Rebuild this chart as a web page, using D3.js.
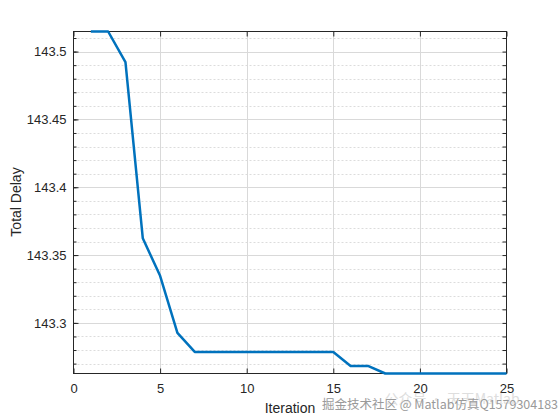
<!DOCTYPE html>
<html><head><meta charset="utf-8">
<script src="https://cdn.jsdelivr.net/npm/d3@7"></script>
<style>body{margin:0;background:#fff}svg{display:block}</style>
</head><body><svg id="c" width="560" height="420"></svg>
<script>
const iterations = d3.range(1, 26);
const totalDelay = [143.5148, 143.5148, 143.4923, 143.3624, 143.3347, 143.2926,
  143.2786, 143.2786, 143.2786, 143.2786, 143.2786, 143.2786, 143.2786, 143.2786, 143.2786,
  143.2683, 143.2683,
  143.2627, 143.2627, 143.2627, 143.2627, 143.2627, 143.2627, 143.2627, 143.2627];
const xTicks = [0, 5, 10, 15, 20, 25];
const yTicks = [143.3, 143.35, 143.4, 143.45, 143.5];
const yMinorTicks = d3.range(27, 52).map(v => 143 + v / 100);
const xLabel = "Iteration";
const yLabel = "Total Delay";

const svg = d3.select("#c");
const L = 73.5, R = 506.5, T = 31.5, B = 373.5;
const x = d3.scaleLinear().domain([0, 25]).range([L, R]);
const y = d3.scaleLinear().domain([d3.min(totalDelay), d3.max(totalDelay)]).range([B, T]);
const font = "Liberation Sans, Arial, Helvetica, sans-serif";
const ink = "#262626";

const g = svg.append("g");
// minor grid
g.selectAll(".ymin").data(yMinorTicks.filter(v => !yTicks.some(t => Math.abs(t - v) < 1e-6))).enter()
  .append("line").attr("x1", L).attr("x2", R)
  .attr("y1", d => Math.round(y(d)) + 0.5).attr("y2", d => Math.round(y(d)) + 0.5)
  .attr("stroke", "#dcdcdc").attr("stroke-width", 1).attr("stroke-dasharray", "2,2");
// major grid
g.selectAll(".ymaj").data(yTicks).enter().append("line")
  .attr("x1", L).attr("x2", R)
  .attr("y1", d => Math.round(y(d)) + 0.5).attr("y2", d => Math.round(y(d)) + 0.5)
  .attr("stroke", "#d9d9d9").attr("stroke-width", 1);
g.selectAll(".xmaj").data(xTicks.slice(1, -1)).enter().append("line")
  .attr("y1", T).attr("y2", B)
  .attr("x1", d => Math.round(x(d)) + 0.5).attr("x2", d => Math.round(x(d)) + 0.5)
  .attr("stroke", "#d9d9d9").attr("stroke-width", 1);

// axes via d3 axis (inward ticks)
const yAxisL = d3.axisLeft(y).tickValues(yTicks).tickSize(-5).tickPadding(7).tickFormat(d3.format("~g"));
const yAxisR = d3.axisRight(y).tickValues(yMinorTicks).tickSize(-4).tickFormat("");
const yAxisLminor = d3.axisLeft(y).tickValues(yMinorTicks).tickSize(-3).tickFormat("");
const xAxisB = d3.axisBottom(x).tickValues(xTicks).tickSize(-5).tickPadding(10).tickFormat(d3.format("d"));
const xAxisT = d3.axisTop(x).tickValues(xTicks).tickSize(-5).tickFormat("");

function style(sel) {
  sel.select(".domain").remove();
  sel.selectAll("line").attr("stroke", ink).attr("stroke-width", 1);
  sel.selectAll("text").attr("fill", ink).attr("font-family", font).attr("font-size", 13);
}
svg.append("g").attr("transform", `translate(${L},0)`).call(yAxisLminor).call(style);
svg.append("g").attr("transform", `translate(${L},0)`).call(yAxisL).call(style);
svg.append("g").attr("transform", `translate(${R},0)`).call(yAxisR).call(style);
svg.append("g").attr("transform", `translate(0,${B})`).call(xAxisB).call(style);
svg.append("g").attr("transform", `translate(0,${T})`).call(xAxisT).call(style);

// box
svg.append("rect").attr("x", L).attr("y", T).attr("width", R - L).attr("height", B - T)
  .attr("fill", "none").attr("stroke", ink).attr("stroke-width", 1);

// line
const line = d3.line().x((d, i) => x(iterations[i])).y(d => y(d));
svg.append("path").datum(totalDelay).attr("d", line)
  .attr("fill", "none").attr("stroke", "#0072BD").attr("stroke-width", 2.5)
  .attr("stroke-linejoin", "round");

// labels
svg.append("text").attr("x", (L + R) / 2).attr("y", 412.5).attr("text-anchor", "middle")
  .attr("font-family", font).attr("font-size", 14).attr("fill", ink).text(xLabel);
svg.append("text").attr("transform", "translate(20.5,202) rotate(-90)").attr("text-anchor", "middle")
  .attr("font-family", font).attr("font-size", 14).attr("fill", ink).text(yLabel);

// watermark
svg.append("text").attr("x", 452).attr("y", 404).attr("text-anchor", "middle")
  .attr("font-family", "Noto Sans CJK SC, sans-serif").attr("font-size", 14).attr("fill", "#d6d6d6").attr("opacity", 0.8)
  .text("公众号 · 天天Matlab");
svg.append("text").attr("x", 440).attr("y", 409).attr("text-anchor", "middle")
  .attr("font-family", "Noto Sans CJK SC, sans-serif").attr("font-size", 12.5).attr("fill", "#9a9a9a")
  .attr("stroke", "#fff").attr("stroke-width", 0.6).attr("paint-order", "stroke")
  .text("掘金技术社区 @ Matlab仿真Q1579304183");
</script></body></html>
